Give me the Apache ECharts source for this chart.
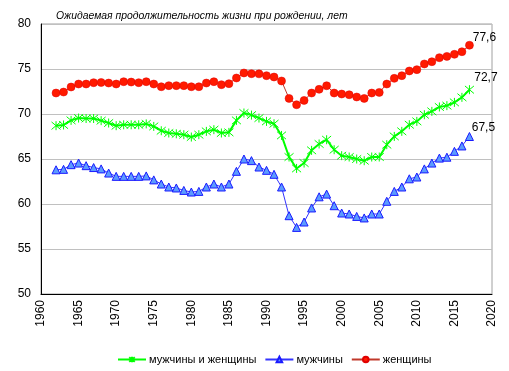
<!DOCTYPE html>
<html><head><meta charset="utf-8">
<script src="https://cdn.jsdelivr.net/npm/echarts@6/dist/echarts.min.js"></script>
<style>html,body{margin:0;padding:0;background:#fff;}#c{width:509px;height:371px;}</style>
</head><body><div id="c"></div>
<script>
var years = [1962,1963,1964,1965,1966,1967,1968,1969,1970,1971,1972,1973,1974,1975,1976,1977,1978,1979,1980,1981,1982,1983,1984,1985,1986,1987,1988,1989,1990,1991,1992,1993,1994,1995,1996,1997,1998,1999,2000,2001,2002,2003,2004,2005,2006,2007,2008,2009,2010,2011,2012,2013,2014,2015,2016,2017];
var total = [68.7,68.78,69.29,69.55,69.5,69.5,69.26,69.0,68.7,68.8,68.8,68.8,68.9,68.62,68.14,67.89,67.8,67.7,67.44,67.7,68.07,68.26,67.89,67.96,69.29,70.11,69.88,69.55,69.18,68.92,67.62,65.22,63.95,64.55,65.96,66.67,67.14,66.03,65.37,65.22,65.0,64.81,65.22,65.22,66.59,67.51,68.07,68.81,69.18,69.92,70.29,70.78,70.93,71.29,71.85,72.7];
var men = [63.8,63.85,64.37,64.55,64.26,64.05,63.9,63.44,63.07,63.07,63.07,63.07,63.12,62.68,62.22,61.89,61.78,61.51,61.33,61.4,61.89,62.22,61.89,62.22,63.63,65.0,64.82,64.11,63.74,63.3,61.89,58.7,57.4,58.0,59.56,60.8,61.1,59.81,59.0,58.89,58.62,58.45,58.89,58.89,60.3,61.4,61.89,62.8,63.0,63.9,64.55,65.1,65.2,65.85,66.45,67.5];
var women = [72.33,72.44,73.0,73.33,73.33,73.48,73.5,73.44,73.33,73.59,73.55,73.48,73.59,73.33,73.03,73.15,73.15,73.15,73.03,73.03,73.44,73.59,73.26,73.37,74.0,74.56,74.48,74.46,74.26,74.11,73.67,71.73,71.03,71.51,72.33,72.74,73.14,72.33,72.22,72.14,71.89,71.73,72.33,72.4,73.33,73.96,74.26,74.78,74.93,75.56,75.81,76.26,76.4,76.63,76.92,77.64];
var seriesNames = ['мужчины и женщины','мужчины','женщины'];
var titleText = 'Ожидаемая продолжительность жизни при рождении, лет';

var FONT = 'Liberation Sans, Arial, sans-serif';
function build(vals, labelOffset){
  return vals.map(function(v,i){
    var item = {value:[years[i], v]};
    if(i === vals.length-1){
      item.label = {show:true, position:'top', offset:labelOffset,
        formatter:function(p){return p.value[1].toFixed(1).replace('.',',');},
        color:'#000', fontSize:12, fontFamily:FONT};
    }
    return item;
  });
}
var star = 'path://M0,0L10,10M10,0L0,10M5,-1L5,11';
var chart = echarts.init(document.getElementById('c'), null, {renderer:'canvas'});
chart.setOption({
  animation:false,
  backgroundColor:'#fff',
  title:{text:titleText, left:51, top:6, textStyle:{fontSize:10.4, fontStyle:'italic', fontWeight:'normal', color:'#000', fontFamily:FONT}},
  grid:{left:41, right:17, top:24, bottom:77, show:true, borderColor:'#a0a0a0', borderWidth:1},
  legend:{top:349, left:112, itemWidth:28, itemHeight:7, itemGap:8,
    textStyle:{fontSize:11, color:'#000', fontFamily:FONT, padding:[0,0,0,-2]},
    data:seriesNames},
  xAxis:{type:'value', min:1960, max:2020, interval:5,
    axisLine:{show:true, lineStyle:{color:'#000', width:1}}, axisTick:{show:false},
    splitLine:{show:false},
    axisLabel:{rotate:90, color:'#000', fontSize:12, fontFamily:FONT, margin:6,
      formatter:function(v){return String(v);}}},
  yAxis:{type:'value', min:50, max:80, interval:5,
    axisLine:{show:true, lineStyle:{color:'#000', width:1}}, axisTick:{show:false},
    splitLine:{show:true, lineStyle:{color:'#c0c0c0', width:1}},
    axisLabel:{color:'#000', fontSize:12, fontFamily:FONT, margin:10}},
  series:[
    {name:seriesNames[0], type:'line', data:build(total,[16.5,4]), symbol:star, symbolSize:9,
      lineStyle:{color:'#00ff00', width:2}, itemStyle:{color:'#00ff00', borderColor:'#00ff00', borderWidth:1}, z:3},
    {name:seriesNames[1], type:'line', data:build(men,[14,7]), symbol:'triangle', symbolSize:8,
      lineStyle:{color:'#3333ff', width:1}, itemStyle:{color:'#5b9bff', borderColor:'#1a1aff', borderWidth:1}, z:2},
    {name:seriesNames[2], type:'line', data:build(women,[15,8]), symbol:'circle', symbolSize:8,
      lineStyle:{color:'#c0392b', width:1}, itemStyle:{color:'#ff1a00', borderColor:'#e00000', borderWidth:0.5}, z:4}
  ]
});
</script></body></html>
